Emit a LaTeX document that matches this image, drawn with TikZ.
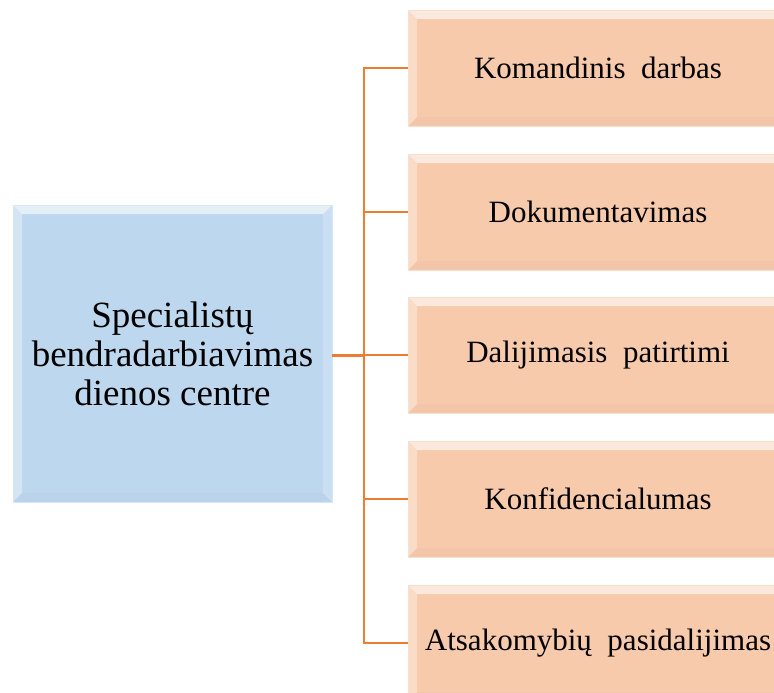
\documentclass[tikz,border=0pt]{standalone}
\usepackage{fontspec}
\setmainfont{Liberation Serif}
\definecolor{bluefill}{HTML}{BDD7EE}
\definecolor{peachfill}{HTML}{F7CAAC}
\definecolor{conn}{HTML}{ED7D31}
\begin{document}
\begin{tikzpicture}[x=1pt,y=-1pt,
  bevel/.style={path picture={
    \fill[white,opacity=0.6] (path picture bounding box.north west) -- (path picture bounding box.north east) -- ([xshift=-9pt,yshift=-9pt]path picture bounding box.north east) -- ([xshift=9pt,yshift=-9pt]path picture bounding box.north west) -- cycle;
    \fill[white,opacity=0.35] (path picture bounding box.north west) -- ([xshift=9pt,yshift=-9pt]path picture bounding box.north west) -- ([xshift=9pt,yshift=9pt]path picture bounding box.south west) -- (path picture bounding box.south west) -- cycle;
    \fill[white,opacity=0.2] (path picture bounding box.north east) -- ([xshift=-9pt,yshift=-9pt]path picture bounding box.north east) -- ([xshift=-9pt,yshift=9pt]path picture bounding box.south east) -- (path picture bounding box.south east) -- cycle;
    \fill[black,opacity=0.015] (path picture bounding box.south west) -- ([xshift=9pt,yshift=9pt]path picture bounding box.south west) -- ([xshift=-9pt,yshift=9pt]path picture bounding box.south east) -- (path picture bounding box.south east) -- cycle;
  }},
  mainbox/.style={bevel, fill=bluefill, draw=bluefill!60!white, line width=0.6pt, minimum width=319pt, minimum height=297pt, inner sep=0pt, align=center, font=\fontsize{37}{39}\selectfont},
  itembox/.style={bevel, fill=peachfill, draw=peachfill!60!white, line width=0.6pt, minimum width=380pt, minimum height=116pt, inner sep=0pt, font=\fontsize{31}{34}\selectfont},
  link/.style={draw=conn, line width=2pt}
]
\useasboundingbox (0,0) rectangle (774,693);
\clip (0,0) rectangle (774,693);
\node[mainbox] (m) at (172.5,353.5) {Specialistų\\bendradarbiavimas\\dienos centre};
\node[itembox] (a) at (598,68) {Komandinis\ \ darbas};
\node[itembox] (b) at (598,212) {Dokumentavimas};
\node[itembox] (c) at (598,355) {Dalijimasis\ \ patirtimi};
\node[itembox] (d) at (598,499) {Konfidencialumas};
\node[itembox] (e) at (598,643) {Atsakomybių\ \ pasidalijimas};
\coordinate (t) at (364,355);
\draw[link, line width=3pt] (m.east |- t) -- (t);
\draw[link] (a.west) -| (t);
\draw[link] (b.west) -| (t);
\draw[link] (c.west) -- (t);
\draw[link] (d.west) -| (t);
\draw[link] (e.west) -| (t);
\end{tikzpicture}
\end{document}
